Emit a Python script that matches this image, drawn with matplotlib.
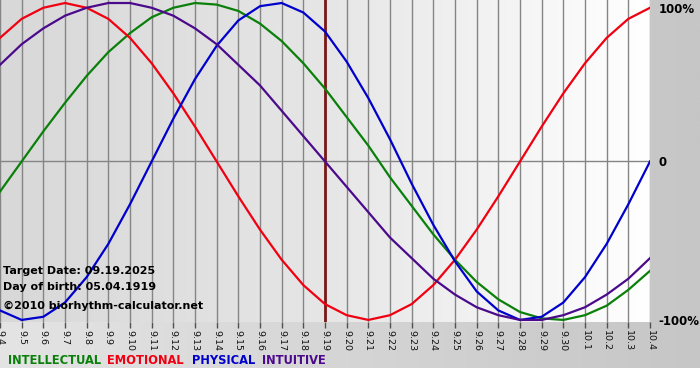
import matplotlib.pyplot as plt
import numpy as np
from matplotlib.colors import LinearSegmentedColormap

# Biorhythm values (-1..1) per day, 9.4 .. 10.4
days = ['9.4', '9.5', '9.6', '9.7', '9.8', '9.9', '9.10', '9.11', '9.12', '9.13',
        '9.14', '9.15', '9.16', '9.17', '9.18', '9.19', '9.20', '9.21', '9.22', '9.23',
        '9.24', '9.25', '9.26', '9.27', '9.28', '9.29', '9.30', '10.1', '10.2', '10.3', '10.4']
intellectual = [-0.19, 0.00, 0.19, 0.37, 0.54, 0.69, 0.81, 0.91, 0.97, 1.00, 0.99,
                0.95, 0.87, 0.76, 0.62, 0.46, 0.28, 0.10, -0.10, -0.28, -0.46, -0.62,
                -0.76, -0.87, -0.95, -0.99, -1.00, -0.97, -0.91, -0.81, -0.69]
emotional = [0.78, 0.90, 0.97, 1.00, 0.97, 0.90, 0.78, 0.62, 0.43, 0.22, 0.00,
             -0.22, -0.43, -0.62, -0.78, -0.90, -0.97, -1.00, -0.97, -0.90, -0.78, -0.62,
             -0.43, -0.22, 0.00, 0.22, 0.43, 0.62, 0.78, 0.90, 0.97]
physical = [-0.94, -1.00, -0.98, -0.89, -0.73, -0.52, -0.27, 0.00, 0.27, 0.52, 0.73,
            0.89, 0.98, 1.00, 0.94, 0.82, 0.63, 0.40, 0.14, -0.14, -0.40, -0.63,
            -0.82, -0.94, -1.00, -0.98, -0.89, -0.73, -0.52, -0.27, 0.00]
intuitive = [0.61, 0.74, 0.84, 0.92, 0.97, 1.00, 1.00, 0.97, 0.92, 0.84, 0.74,
             0.61, 0.48, 0.32, 0.16, 0.00, -0.16, -0.32, -0.48, -0.61, -0.74, -0.84,
             -0.92, -0.97, -1.00, -1.00, -0.97, -0.92, -0.84, -0.74, -0.61]
target_day = '9.19'

series = [
    ('INTELLECTUAL', intellectual, '#0a800a'),
    ('EMOTIONAL', emotional, '#f00010'),
    ('PHYSICAL', physical, '#0000cc'),
    ('INTUITIVE', intuitive, '#4b0a8c'),
]

W, H = 700, 380
fig = plt.figure(figsize=(7, 3.8), dpi=100)
fig.patch.set_facecolor('white')


def fx(px):
    return px / W


def fy(py):
    return 1 - py / H


# gray frame behind the chart
bg = fig.add_axes([0, fy(368), 1, 368 / H])
bg.imshow(np.linspace(0, 1, 256).reshape(1, -1), aspect='auto', extent=[0, 1, 0, 1],
          cmap=LinearSegmentedColormap.from_list('frame', ['#e4e4e4', '#c6c6c6']))
bg.axis('off')

ax = fig.add_axes([0, fy(322), fx(650), 322 / H])
x = np.arange(len(days))
ymin, ymax = -1.013, 1.019
ax.imshow(np.linspace(0, 1, 256).reshape(1, -1), aspect='auto',
          extent=[x[0], x[-1], ymin, ymax], zorder=0,
          cmap=LinearSegmentedColormap.from_list('plot', ['#d8d8d8', '#e6e6e6', '#ffffff']))

ax.set_xlim(x[0], x[-1])
ax.set_ylim(ymin, ymax)
ax.set_xticks(x)
ax.set_xticklabels(days)
ax.grid(axis='x', color='#858585', lw=1)
ax.axhline(0, color='#858585', lw=1, zorder=1)
ax.axvline(days.index(target_day), color='#7a1818', lw=2, zorder=2)

for name, vals, col in series:
    ax.plot(x, vals, color=col, lw=1.6, zorder=3, solid_joinstyle='round')

for s in ax.spines.values():
    s.set_visible(False)
ax.tick_params(axis='x', direction='out', length=4, width=1, color='#505050',
               labelsize=6.8, labelrotation=-90, pad=2, labelcolor='#111111')

ax.yaxis.tick_right()
ax.set_yticks([1, 0, -1])
ylabels = ax.set_yticklabels(['100%', '0', '-100%'], fontweight='bold', fontsize=8.5)
ylabels[0].set_va('top')
ax.tick_params(axis='y', length=0, pad=6)

info = ['Target Date: 09.19.2025', 'Day of birth: 05.04.1919']
fig.text(fx(3), fy(271), info[0], fontsize=8, fontweight='bold', va='center', zorder=5)
fig.text(fx(3), fy(287), info[1], fontsize=8, fontweight='bold', va='center', zorder=5)
fig.text(fx(3), fy(306), '©2010 biorhythm-calculator.net', fontsize=8, fontweight='bold',
         va='center', zorder=5)

legend_x = [8, 107, 192, 262]
for (name, vals, col), lx in zip(series, legend_x):
    fig.text(fx(lx), fy(361), name, color=col, fontsize=8.3, fontweight='bold', va='center')

fig.savefig('out.png', dpi=100)
